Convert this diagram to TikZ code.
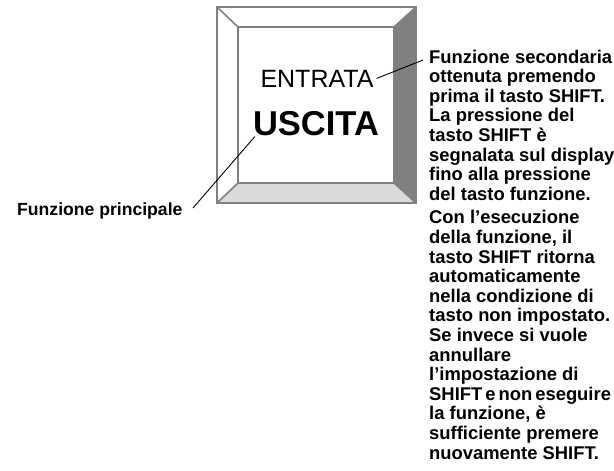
\documentclass[tikz,border=0pt]{standalone}
\usepackage{fontspec}
\setmainfont{Liberation Sans}
\definecolor{edgegray}{HTML}{808080}
\definecolor{darkbevel}{HTML}{808080}
\definecolor{lightbevel}{HTML}{DADADA}
\tikzset{
  keyedge/.style={draw=edgegray, line width=1.6pt, line join=miter},
  leader/.style={draw=black, line width=0.9pt},
  bodytext/.style={inner sep=0pt, font=\bfseries\fontsize{18.4}{19.6}\selectfont, align=left},
}
\begin{document}
\begin{tikzpicture}[x=1pt,y=-1pt]
\useasboundingbox (0,0) rectangle (614,471);
% key corners
\coordinate (o1) at (217,7);
\coordinate (o2) at (416,7);
\coordinate (o3) at (416,203);
\coordinate (o4) at (217,203);
\coordinate (i1) at (238,27);
\coordinate (i2) at (394,27);
\coordinate (i3) at (394,183);
\coordinate (i4) at (238,183);
% bevels
\fill[white] (o1) -- (o2) -- (o3) -- (o4) -- cycle;
\fill[darkbevel] (o2) -- (o3) -- (i3) -- (i2) -- cycle;
\fill[lightbevel] (o4) -- (o3) -- (i3) -- (i4) -- cycle;
\draw[keyedge] (o1) -- (o2) -- (o3) -- (o4) -- cycle;
\draw[keyedge] (i1) -- (i2) -- (i3) -- (i4) -- cycle;
\draw[keyedge] (o1) -- (i1);
\draw[keyedge] (o2) -- (i2);
\draw[keyedge] (o3) -- (i3);
\draw[keyedge] (o4) -- (i4);
% key labels
\node[inner sep=0pt, anchor=base, font=\fontsize{25}{30}\selectfont] (entrata) at (317,87) {ENTRATA};
\node[inner sep=0pt, anchor=base, font=\bfseries\fontsize{34.5}{40}\selectfont] (uscita) at (316,135) {USCITA};
% side texts
\node[bodytext, anchor=base west, font=\bfseries\fontsize{17.6}{19.6}\selectfont] (principale) at (17,215) {Funzione principale};
\node[bodytext, anchor=north west] (secondaria) at (429,49.5) {Funzione secondaria\\
ottenuta premendo\\
prima il tasto SHIFT.\\
La pressione del\\
tasto SHIFT è\\
segnalata sul display\\
fino alla pressione\\
del tasto funzione.\\[4pt]
Con l’esecuzione\\
della funzione, il\\
tasto SHIFT ritorna\\
automaticamente\\
nella condizione di\\
tasto non impostato.\\
Se invece si vuole\\
annullare\\
l’impostazione di\\
\hbox{SHIFT\kern3pt e\kern3pt non\kern3pt eseguire}\\
la funzione, è\\
sufficiente premere\\
nuovamente SHIFT.};
% leaders
\coordinate (secend) at (423,60);
\coordinate (prinend) at (193,208);
\draw[leader] ([xshift=3pt]entrata.east) -- (secend);
\draw[leader] ([xshift=2pt,yshift=-1pt]uscita.south west) -- (prinend);
\end{tikzpicture}
\end{document}
